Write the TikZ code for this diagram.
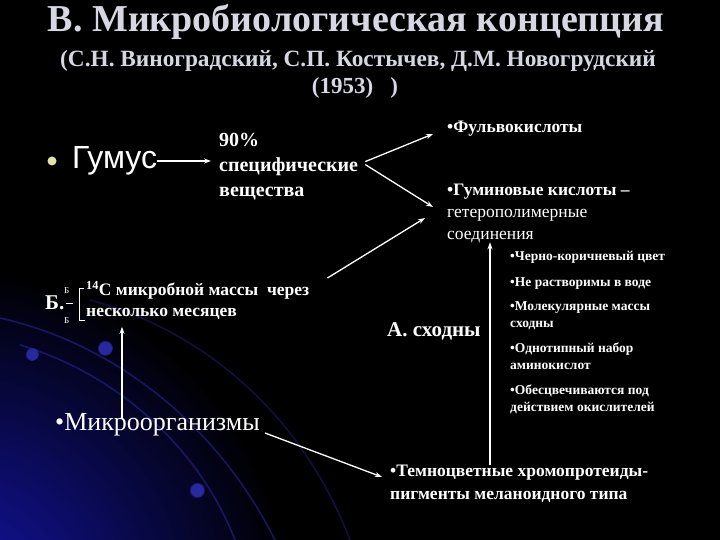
\documentclass[tikz,border=0pt]{standalone}
\usepackage{fontspec}
\setmainfont{Liberation Serif}
\newfontfamily\arialf{Liberation Sans}
\usetikzlibrary{arrows.meta,fadings}
\definecolor{titlec}{RGB}{215,215,228}
\definecolor{bulc}{RGB}{225,225,170}
\definecolor{glow}{RGB}{20,20,170}
\definecolor{arcc}{RGB}{40,40,160}
\begin{document}
\begin{tikzpicture}[x=1pt,y=-1pt,
  lbl/.style={text=white,inner sep=0pt,anchor=west,align=left},
  arr/.style={draw=white,line width=1.3pt,-{Stealth[length=7pt,width=5pt]}},
  bracketline/.style={draw=white,line width=0.8pt},
  bluearc/.style={draw=arcc,line width=1.6pt,opacity=0.55},
  bluedot/.style={fill=arcc,path fading=circle with fuzzy edge 20 percent}]
\useasboundingbox (0,0) rectangle (720,540);
\fill[black] (0,0) rectangle (720,540);
\begin{scope}
\clip (0,0) rectangle (720,540);
\shade[inner color=glow, outer color=black] (-40,600) circle (330);
\draw[bluearc] (0,318) .. controls (120,345) and (220,430) .. (275,540);
\draw[bluearc] (20,345) .. controls (120,375) and (200,450) .. (235,540);
\draw[bluearc,opacity=0.4] (90,300) .. controls (200,330) and (300,410) .. (350,540);
\fill[bluedot] (32,354) circle (7);
\fill[bluedot] (105,348) circle (8);
\fill[bluedot] (197,490) circle (8);
\end{scope}
% title
\node[text=titlec,font=\bfseries\fontsize{38}{40}\selectfont,inner sep=0pt] (title) at (356,22) {В. Микробиологическая концепция};
\node[text=titlec,font=\bfseries\fontsize{23.3}{25}\selectfont,inner sep=0pt] (sub1) at (358,61) {(С.Н. Виноградский, С.П. Костычев, Д.М. Новогрудский};
\node[text=titlec,font=\bfseries\fontsize{23}{25}\selectfont,inner sep=0pt] (sub2) at (355,88) {(1953)\ \ \ )};
% humus
\node[circle,fill=bulc,minimum size=9pt,inner sep=0pt] (bul) at (52,161) {};
\node[lbl,font=\arialf\fontsize{32}{34}\selectfont] (gumus) at (72,161) {Гумус};
\node[lbl,anchor=north west,font=\bfseries\fontsize{20}{25}\selectfont] (spec) at (219,133) {90\%\\специфические\\вещества};
\node[lbl,font=\bfseries\fontsize{17.5}{22}\selectfont] (fulvo) at (447,129) {•Фульвокислоты};
\node[lbl,anchor=north west,font=\fontsize{17.5}{22}\selectfont] (gumin) at (447,184) {\textbf{•Гуминовые кислоты –}\\гетерополимерные\\соединения};
% properties
\node[lbl,anchor=north west,font=\bfseries\fontsize{13.5}{17}\selectfont] (p1) at (510,251) {•Черно-коричневый цвет};
\node[lbl,anchor=north west,font=\bfseries\fontsize{13.5}{17}\selectfont] (p2) at (510,277) {•Не растворимы в воде};
\node[lbl,anchor=north west,font=\bfseries\fontsize{13.5}{17}\selectfont] (p3) at (510,301) {•Молекулярные массы\\сходны};
\node[lbl,anchor=north west,font=\bfseries\fontsize{13.5}{17}\selectfont] (p4) at (510,343) {•Однотипный набор\\аминокислот};
\node[lbl,anchor=north west,font=\bfseries\fontsize{13.5}{17}\selectfont] (p5) at (510,385) {•Обесцвечиваются под\\действием окислителей};
\node[lbl,font=\bfseries\fontsize{21}{22}\selectfont] (shod) at (387,331) {А. сходны};
% B
\node[lbl,font=\bfseries\fontsize{21}{22}\selectfont] (B) at (45,303) {Б.};
\node[lbl,font=\fontsize{9}{10}\selectfont] (b1) at (64,291) {Б};
\node[lbl,font=\fontsize{9}{10}\selectfont] (b2) at (64,321) {Б};
\draw[bracketline] (66,303) -- (73,303);
\draw[bracketline] (84,288) -- (79,288) -- (79,320) -- (85,320);
\node[lbl,anchor=north west,font=\bfseries\fontsize{17.5}{21}\selectfont] (c14) at (86,281) {\textsuperscript{14}С микробной массы\ \ через\\несколько месяцев};
\node[lbl,font=\fontsize{26}{28}\selectfont] (micro) at (55,425) {•Микроорганизмы};
\node[lbl,anchor=north west,font=\bfseries\fontsize{17.5}{23}\selectfont] (dark) at (390,465) {•Темноцветные хромопротеиды-\\пигменты меланоидного типа};
% connectors
\draw[arr] (gumus.east) -- ([xshift=-8pt]spec.west |- gumus.east);
\draw[arr] ([xshift=7pt,yshift=5pt]spec.east) -- ([xshift=-14pt,yshift=-5pt]fulvo.west);
\draw[arr] ([xshift=7pt,yshift=2pt]spec.east) -- ([xshift=-14pt,yshift=-23pt]gumin.north west);
\draw[arr] ([xshift=18pt,yshift=3pt]c14.north east) -- ([xshift=-22pt,yshift=-34pt]gumin.north west);
\draw[arr] ([xshift=67pt,yshift=-4pt]micro.north west) -- ([xshift=36pt,yshift=-7pt]c14.south west);
\draw[arr] ([xshift=5pt,yshift=-8pt]micro.east) -- ([xshift=-8pt,yshift=-12pt]dark.north west);
\draw[arr] ([xshift=100pt]dark.north west) -- ([xshift=43pt,yshift=1pt]gumin.south west);
\end{tikzpicture}
\end{document}
